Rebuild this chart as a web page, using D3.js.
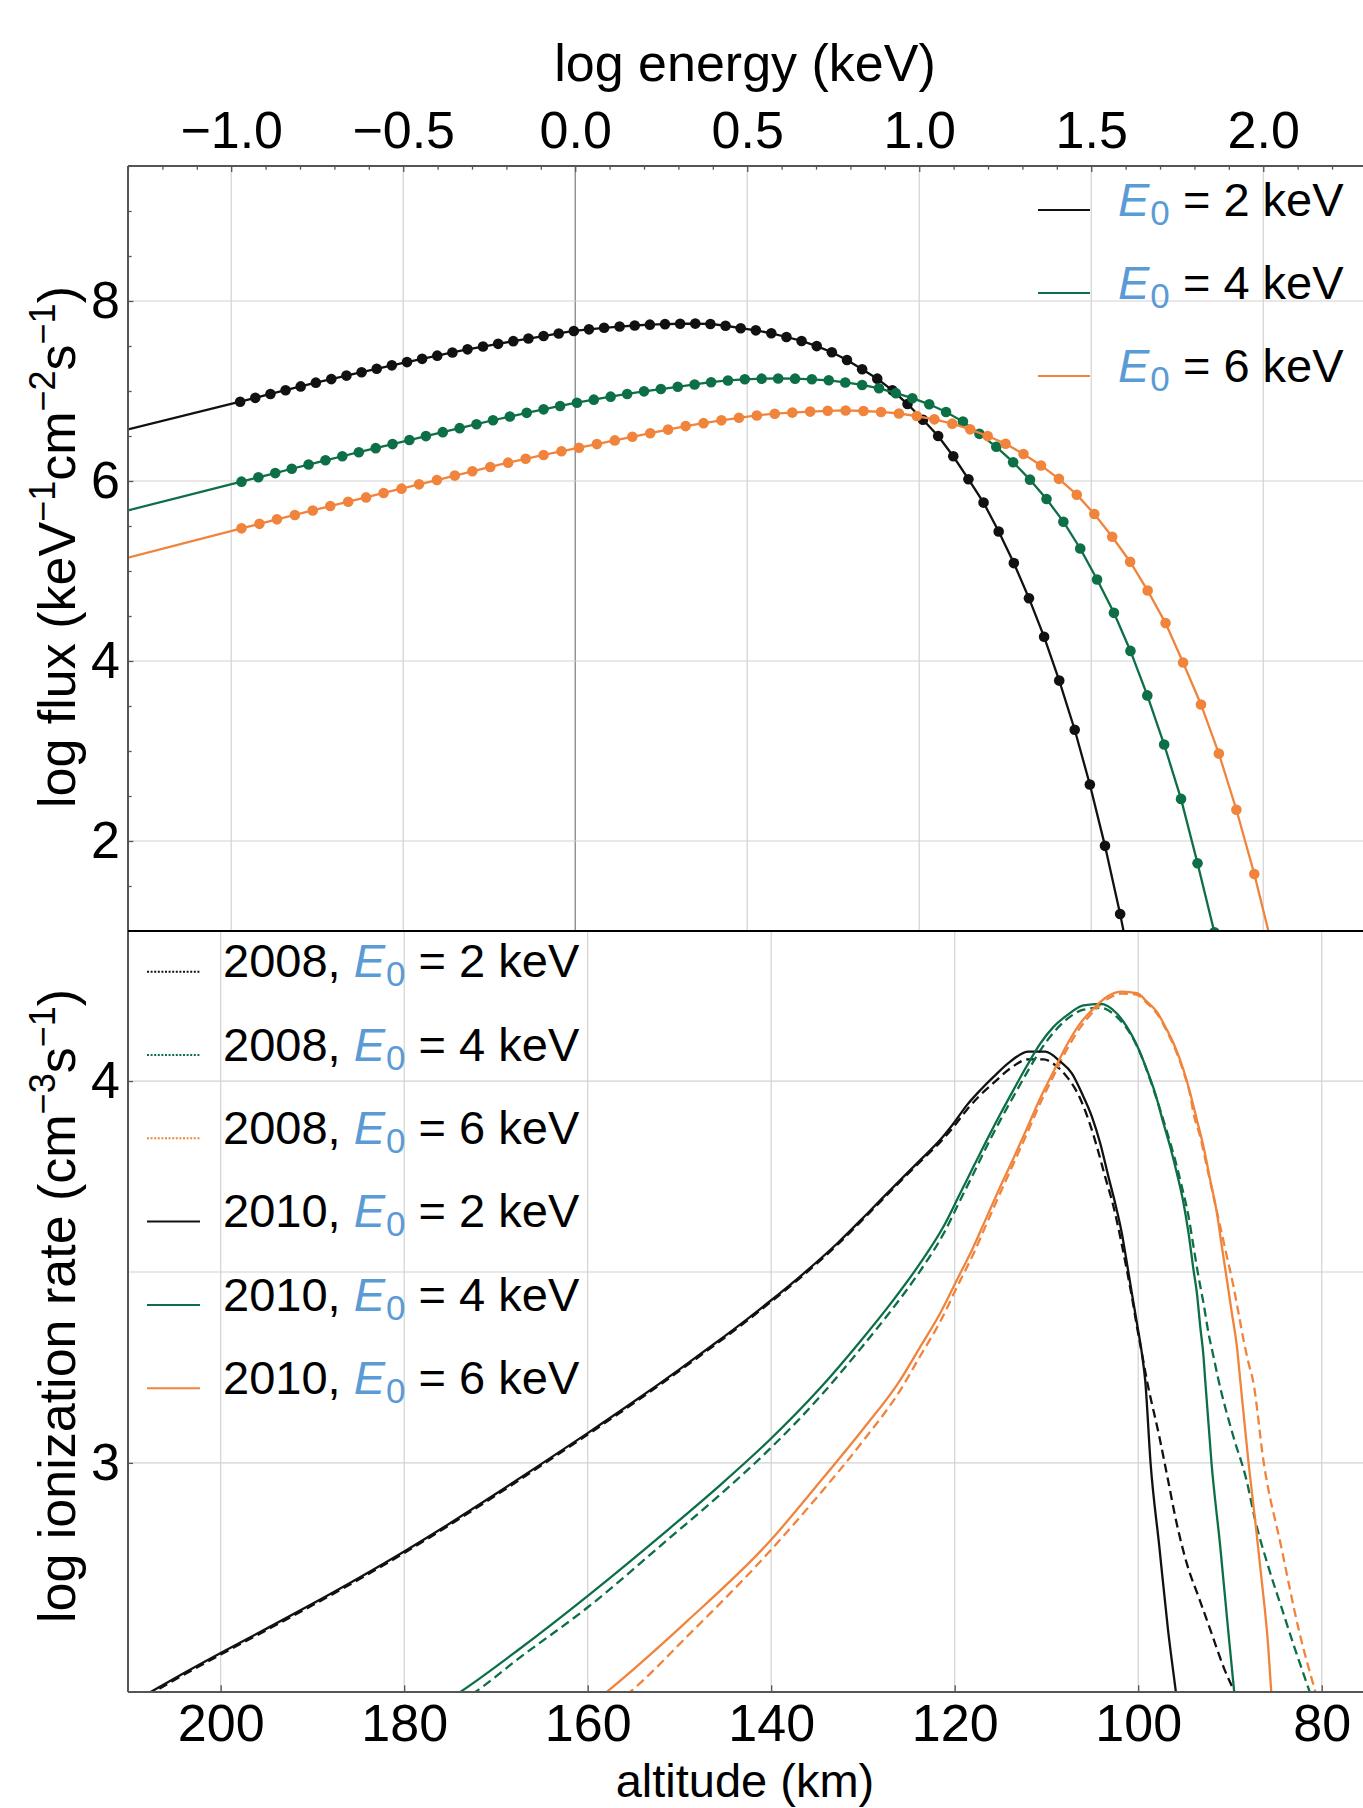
<!DOCTYPE html>
<html>
<head>
<meta charset="utf-8">
<script src="https://cdn.jsdelivr.net/npm/d3@7"></script>
<style>
  body { margin: 0; background: #fff; }
  text { font-family: "Liberation Sans", Arial, sans-serif; }
</style>
</head>
<body>
<div id="chart"></div>
<script>
/* ****************************************************************** */
/* ******************************* data ***************************** */
/* ****************************************************************** */

// top panel: log energy (keV) vs log flux, first entry = line start at left edge (no dot)
var energy2 = [-1.3, -0.974, -0.930, -0.886, -0.842, -0.798, -0.754, -0.709, -0.665, -0.621, -0.577,
  -0.533, -0.489, -0.445, -0.401, -0.357, -0.313, -0.268, -0.224, -0.180, -0.136,
  -0.092, -0.048, -0.004, 0.040, 0.084, 0.129, 0.173, 0.217, 0.261, 0.305,
  0.349, 0.393, 0.437, 0.481, 0.525, 0.570, 0.614, 0.658, 0.702, 0.746,
  0.790, 0.834, 0.878, 0.922, 0.966, 1.011, 1.055, 1.099, 1.143, 1.187,
  1.231, 1.275, 1.319, 1.363, 1.407, 1.452, 1.496, 1.540, 1.584, 1.628];
var flux2 = [6.574, 6.881, 6.924, 6.967, 7.009, 7.051, 7.093, 7.132, 7.171, 7.209, 7.247,
  7.285, 7.321, 7.357, 7.393, 7.428, 7.463, 7.494, 7.524, 7.554, 7.583,
  7.611, 7.639, 7.667, 7.685, 7.702, 7.716, 7.728, 7.737, 7.743, 7.747,
  7.749, 7.745, 7.725, 7.698, 7.674, 7.641, 7.600, 7.556, 7.499, 7.430,
  7.344, 7.241, 7.137, 7.007, 6.855, 6.680, 6.500, 6.275, 6.020, 5.760,
  5.439, 5.088, 4.698, 4.269, 3.782, 3.236, 2.628, 1.946, 1.189, 0.350];

var energy4 = [-1.3, -0.970, -0.921, -0.872, -0.824, -0.775, -0.726, -0.677, -0.629, -0.580, -0.531,
  -0.482, -0.434, -0.385, -0.336, -0.287, -0.239, -0.190, -0.141, -0.092, -0.044,
  0.005, 0.054, 0.103, 0.151, 0.200, 0.249, 0.298, 0.347, 0.395, 0.444,
  0.493, 0.542, 0.590, 0.639, 0.688, 0.737, 0.785, 0.834, 0.883, 0.932,
  0.980, 1.029, 1.078, 1.127, 1.175, 1.224, 1.273, 1.322, 1.370, 1.419,
  1.468, 1.517, 1.566, 1.614, 1.663, 1.712, 1.761, 1.809, 1.858, 1.907];
var flux4 = [5.674, 5.993, 6.041, 6.088, 6.136, 6.183, 6.230, 6.275, 6.320, 6.365, 6.410,
  6.455, 6.499, 6.543, 6.587, 6.631, 6.675, 6.716, 6.757, 6.796, 6.834,
  6.870, 6.904, 6.937, 6.967, 6.996, 7.022, 7.047, 7.073, 7.098, 7.117,
  7.130, 7.137, 7.139, 7.137, 7.130, 7.119, 7.095, 7.067, 7.030, 6.976,
  6.920, 6.852, 6.767, 6.660, 6.524, 6.380, 6.209, 6.015, 5.800, 5.548,
  5.250, 4.905, 4.535, 4.112, 3.618, 3.072, 2.468, 1.752, 0.985, 0.150];

var energy6 = [-1.3, -0.970, -0.918, -0.867, -0.815, -0.763, -0.712, -0.660, -0.608, -0.557, -0.505,
  -0.454, -0.402, -0.350, -0.299, -0.247, -0.195, -0.144, -0.092, -0.040, 0.011,
  0.063, 0.115, 0.166, 0.218, 0.270, 0.321, 0.373, 0.425, 0.476, 0.528,
  0.580, 0.631, 0.683, 0.734, 0.786, 0.838, 0.889, 0.941, 0.993, 1.044,
  1.096, 1.148, 1.199, 1.251, 1.303, 1.354, 1.406, 1.458, 1.509, 1.561,
  1.613, 1.664, 1.716, 1.767, 1.819, 1.871, 1.922, 1.974, 2.026];
var flux6 = [5.148, 5.474, 5.524, 5.574, 5.623, 5.673, 5.722, 5.770, 5.818, 5.867, 5.915,
  5.963, 6.011, 6.060, 6.108, 6.156, 6.204, 6.247, 6.289, 6.330, 6.370,
  6.410, 6.451, 6.491, 6.531, 6.571, 6.610, 6.643, 6.674, 6.702, 6.728,
  6.748, 6.760, 6.771, 6.780, 6.784, 6.778, 6.767, 6.750, 6.722, 6.685,
  6.637, 6.574, 6.500, 6.414, 6.300, 6.173, 6.024, 5.848, 5.633, 5.380,
  5.103, 4.783, 4.421, 3.984, 3.517, 2.971, 2.347, 1.633, 0.830];

// bottom panel: altitude (km) vs log ionization rate
var alt2010e2 = [208, 205, 200, 195, 190, 185, 180, 175, 170, 165, 160, 155, 150, 146.3, 142.65,
  140.11, 136.48, 132.84, 129.57, 126.67, 123.76, 121.58, 120.13, 118.67, 117.22, 115.77,
  113.95, 111.96, 110.14, 108.5, 107.23, 106.14, 105.05, 104.14, 103.24, 102.51, 101.78,
  101.23, 100.69, 100.14, 99.6, 99.24, 98.65, 97.7, 96.75, 95.9, 95.0];
var ion2010e2 = [2.395, 2.436, 2.502, 2.566, 2.631, 2.698, 2.768, 2.842, 2.919, 2.998, 3.078, 3.16, 3.245, 3.310, 3.376,
  3.424, 3.496, 3.574, 3.652, 3.723, 3.793, 3.846, 3.889, 3.937, 3.976, 4.011,
  4.051, 4.077, 4.077, 4.051, 4.02, 3.968, 3.907, 3.837, 3.749, 3.68, 3.601,
  3.523, 3.444, 3.366, 3.287, 3.217, 2.999, 2.781, 2.563, 2.401, 2.23];

var alt2008e2 = [208, 205, 200, 195, 190, 185, 180, 175, 170, 165, 160, 155, 150, 146.3, 142.65,
  140.11, 136.48, 132.84, 129.57, 126.67, 123.76, 121.58, 120.13, 118.67, 117.22, 115.77,
  113.95, 111.96, 110.32, 109.05, 107.77, 106.5, 105.41, 104.5, 103.6, 102.69, 101.96,
  101.31, 100.69, 100.14, 99.6, 99.06, 97.7, 96.75, 95.81, 94.61, 93.43, 92.01, 90.58, 89.54, 88.5];
var ion2008e2 = [2.39, 2.432, 2.498, 2.562, 2.627, 2.694, 2.764, 2.838, 2.915, 2.994, 3.074, 3.156, 3.241, 3.306, 3.372,
  3.420, 3.492, 3.570, 3.648, 3.719, 3.789, 3.84, 3.88, 3.925, 3.963, 3.995,
  4.033, 4.057, 4.057, 4.042, 4.011, 3.963, 3.898, 3.828, 3.749, 3.671, 3.592,
  3.514, 3.435, 3.357, 3.287, 3.217, 3.069, 2.955, 2.842, 2.729, 2.650, 2.554, 2.458, 2.401, 2.33];

var alt2010e4 = [175.5, 174.08, 167.36, 160.09, 151.0, 145.56, 140.18, 134.66, 130.3, 126.67, 123.76,
  121.22, 119.4, 117.95, 116.49, 115.04, 113.59, 112.13, 110.68, 109.23, 107.77, 105.96,
  104.14, 102.33, 101.23, 100.14, 99.05, 98.15, 97.24, 96.51, 95.78, 95.06, 94.51, 93.97,
  93.6, 93.24, 92.88, 92.7, 92.01, 91.06, 90.2, 89.54, 89.0];
var ion2010e4 = [2.375, 2.397, 2.514, 2.65, 2.83, 2.942, 3.06, 3.196, 3.318, 3.427, 3.523,
  3.619, 3.706, 3.776, 3.846, 3.913, 3.977, 4.04, 4.098, 4.142, 4.172, 4.198,
  4.202, 4.177, 4.142, 4.094, 4.029, 3.968, 3.889, 3.828, 3.758, 3.680, 3.601, 3.505,
  3.444, 3.357, 3.278, 3.217, 2.999, 2.781, 2.563, 2.401, 2.27];

var alt2008e4 = [173.9, 172.45, 167.4, 160.09, 151.0, 145.56, 140.18, 134.66, 130.3, 126.67, 123.76,
  121.22, 119.4, 117.95, 116.49, 115.04, 113.59, 112.13, 110.68, 109.23, 107.77, 105.96,
  104.14, 102.33, 100.88, 99.78, 98.69, 97.6, 96.7, 95.97, 95.24, 94.51, 93.97, 93.43,
  92.88, 92.34, 91.79, 91.25, 89.63, 88.2, 87.26, 85.83, 84.42, 83.0, 81.32, 80.0];
var ion2008e4 = [2.375, 2.397, 2.49, 2.62, 2.805, 2.917, 3.036, 3.174, 3.298, 3.407, 3.503,
  3.6, 3.688, 3.758, 3.83, 3.897, 3.96, 4.022, 4.08, 4.127, 4.162, 4.187,
  4.192, 4.168, 4.125, 4.073, 4.003, 3.924, 3.854, 3.793, 3.723, 3.645, 3.566, 3.488,
  3.418, 3.340, 3.278, 3.217, 3.069, 2.955, 2.851, 2.729, 2.624, 2.519, 2.401, 2.31];

var alt2010e6 = [159.5, 158.09, 149.19, 140.18, 134.66, 130.0, 125.94, 123.76, 121.58, 119.76, 117.95,
  116.49, 115.04, 113.59, 112.13, 110.68, 109.23, 107.77, 106.32, 104.87, 103.41, 101.78,
  100.14, 99.05, 97.96, 96.87, 96.15, 95.06, 94.33, 93.6, 92.88, 92.15, 91.42, 90.88,
  90.33, 89.79, 89.24, 88.88, 87.97, 87.26, 86.55, 85.83, 85.5, 85.1];
var ion2010e6 = [2.37, 2.397, 2.585, 2.794, 2.951, 3.088, 3.217, 3.304, 3.392, 3.479, 3.566,
  3.645, 3.723, 3.798, 3.876, 3.955, 4.025, 4.095, 4.151, 4.19, 4.221, 4.234,
  4.23, 4.208, 4.181, 4.134, 4.099, 4.029, 3.968, 3.898, 3.828, 3.741, 3.654, 3.566,
  3.479, 3.392, 3.304, 3.217, 2.999, 2.851, 2.694, 2.519, 2.401, 2.3];

var alt2008e6 = [157.0, 155.55, 149.19, 140.18, 134.66, 130.0, 125.94, 123.76, 121.58, 119.76, 117.95,
  116.49, 115.04, 113.59, 112.13, 110.68, 109.23, 107.77, 106.32, 104.87, 103.41, 101.78,
  100.14, 99.05, 97.96, 96.87, 96.15, 95.06, 94.33, 93.97, 93.24, 92.52, 91.79, 91.06,
  90.33, 89.61, 89.06, 88.52, 87.97, 87.5, 86.31, 84.42, 82.5, 80.7, 79.5];
var ion2008e6 = [2.37, 2.397, 2.545, 2.768, 2.92, 3.057, 3.19, 3.28, 3.37, 3.46, 3.548,
  3.628, 3.707, 3.784, 3.862, 3.942, 4.013, 4.083, 4.14, 4.182, 4.214, 4.229,
  4.226, 4.204, 4.177, 4.13, 4.094, 4.024, 3.963, 3.915, 3.854, 3.776, 3.697, 3.619,
  3.540, 3.462, 3.392, 3.322, 3.261, 3.217, 2.999, 2.781, 2.563, 2.401, 2.3];

// ticks
var energyTicks = [-1.0, -0.5, 0.0, 0.5, 1.0, 1.5, 2.0];
var fluxTicks = [2, 4, 6, 8];
var altTicks = [200, 180, 160, 140, 120, 100, 80];
var ionTicks = [3, 4];
var ionGrid = [3, 3.5, 4];
var beamEnergies = [2, 4, 6];
var years = ["2008", "2010"];

/* ****************************************************************** */
/* ****************************** layout **************************** */
/* ****************************************************************** */
var W = 1363, H = 1808;
var left = 128, right = 1363;
var topTop = 166, mid = 931, botBottom = 1692;

var black = "#111111", green = "#0c6f46", orange = "#f0843c", blue = "#5b9bd5";
var colors = [black, green, orange];
var gridColor = "#d2d2d2", frameColor = "#555555";

var svg = d3.select("#chart")
    .append("svg")
    .attr("width", W)
    .attr("height", H);

// scales
var xE = d3.scaleLinear().domain([-1.3, 2.29]).range([left, right]);
var yF = d3.scaleLinear().domain([1, 9.5]).range([mid, topTop]);
var xA = d3.scaleLinear().domain([210.1, 75.5]).range([left, right]);
var yI = d3.scaleLinear().domain([2.4, 4.393]).range([botBottom, mid]);

// clip regions
var defs = svg.append("defs");
defs.append("clipPath").attr("id", "clipTop")
    .append("rect").attr("x", left).attr("y", topTop).attr("width", right - left).attr("height", mid - topTop);
defs.append("clipPath").attr("id", "clipBot")
    .append("rect").attr("x", left).attr("y", mid).attr("width", right - left).attr("height", botBottom - mid);

/* ---------------------------- gridlines --------------------------- */
var grid = svg.append("g");
grid.selectAll(".gvE")
    .data(energyTicks)
    .enter()
    .append("line")
    .attr("x1", d => xE(d)).attr("x2", d => xE(d))
    .attr("y1", topTop).attr("y2", mid)
    .attr("stroke", d => d === 0 ? "#7a7a7a" : gridColor)
    .attr("stroke-width", 1.2);
grid.selectAll(".ghF")
    .data(fluxTicks)
    .enter()
    .append("line")
    .attr("x1", left).attr("x2", right)
    .attr("y1", d => yF(d)).attr("y2", d => yF(d))
    .attr("stroke", gridColor)
    .attr("stroke-width", 1.2);
grid.selectAll(".gvA")
    .data(altTicks)
    .enter()
    .append("line")
    .attr("x1", d => xA(d)).attr("x2", d => xA(d))
    .attr("y1", mid).attr("y2", botBottom)
    .attr("stroke", gridColor)
    .attr("stroke-width", 1.2);
grid.selectAll(".ghI")
    .data(ionGrid)
    .enter()
    .append("line")
    .attr("x1", left).attr("x2", right)
    .attr("y1", d => yI(d)).attr("y2", d => yI(d))
    .attr("stroke", gridColor)
    .attr("stroke-width", 1.2);

/* ---------------------------- top panel --------------------------- */
var topSeries = [
  { e: energy2, f: flux2, color: black },
  { e: energy4, f: flux4, color: green },
  { e: energy6, f: flux6, color: orange }
];

var lineTop = d3.line()
    .x(d => xE(d[0]))
    .y(d => yF(d[1]));

var topG = svg.append("g").attr("clip-path", "url(#clipTop)");
topSeries.forEach(function(s) {
  var pts = d3.zip(s.e, s.f);
  topG.append("path")
      .datum(pts)
      .attr("d", lineTop)
      .attr("fill", "none")
      .attr("stroke", s.color)
      .attr("stroke-width", 2.3);
  // dots on the sampled energies (skip the left edge start)
  topG.append("g")
      .selectAll("circle")
      .data(pts.slice(1))
      .enter()
      .append("circle")
      .attr("cx", d => xE(d[0]))
      .attr("cy", d => yF(d[1]))
      .attr("r", 5.3)
      .attr("fill", s.color);
});

/* --------------------------- bottom panel ------------------------- */
var botSeries = [
  { a: alt2008e2, v: ion2008e2, color: black, dashed: true },
  { a: alt2008e4, v: ion2008e4, color: green, dashed: true },
  { a: alt2008e6, v: ion2008e6, color: orange, dashed: true },
  { a: alt2010e2, v: ion2010e2, color: black, dashed: false },
  { a: alt2010e4, v: ion2010e4, color: green, dashed: false },
  { a: alt2010e6, v: ion2010e6, color: orange, dashed: false }
];

var lineBot = d3.line()
    .curve(d3.curveMonotoneX)
    .x(d => xA(d[0]))
    .y(d => yI(d[1]));

var botG = svg.append("g").attr("clip-path", "url(#clipBot)");
botSeries.forEach(function(s) {
  botG.append("path")
      .datum(d3.zip(s.a, s.v))
      .attr("d", lineBot)
      .attr("fill", "none")
      .attr("stroke", s.color)
      .attr("stroke-width", 2.3)
      .attr("stroke-dasharray", s.dashed ? "9,5" : null);
});

/* ------------------------------ axes ------------------------------ */
function styleAxis(g, size) {
  g.attr("font-size", size);
  g.select(".domain").remove();
  g.selectAll(".tick line").attr("stroke", frameColor).attr("stroke-width", 1.3);
  g.selectAll(".tick text").attr("fill", "#000");
}

// top energy axis (major + minor)
var axTop = svg.append("g")
    .attr("transform", `translate(0,${topTop})`)
    .call(d3.axisTop(xE).tickValues(energyTicks).tickFormat(d3.format(".1f")).tickSize(-6).tickPadding(18));
styleAxis(axTop, 52);
var minorE = d3.range(-13, 23).map(i => i / 10).filter(v => Math.abs(v * 2 - Math.round(v * 2)) > 1e-6);
var axTopMinor = svg.append("g")
    .attr("transform", `translate(0,${topTop})`)
    .call(d3.axisTop(xE).tickValues(minorE).tickFormat("").tickSize(-3.7));
styleAxis(axTopMinor, 10);

// top flux axis
var axFlux = svg.append("g")
    .attr("transform", `translate(${left},0)`)
    .call(d3.axisLeft(yF).tickValues(fluxTicks).tickFormat(d3.format("d")).tickSize(-5.4).tickPadding(8));
styleAxis(axFlux, 52);
var minorF = d3.range(3, 19).map(i => i / 2).filter(v => fluxTicks.indexOf(v) < 0);
var axFluxMinor = svg.append("g")
    .attr("transform", `translate(${left},0)`)
    .call(d3.axisLeft(yF).tickValues(minorF).tickFormat("").tickSize(-3.6));
styleAxis(axFluxMinor, 10);

// bottom altitude axis
var axAlt = svg.append("g")
    .attr("transform", `translate(0,${botBottom})`)
    .call(d3.axisBottom(xA).tickValues(altTicks).tickFormat(d3.format("d")).tickSize(-6.7).tickPadding(12));
styleAxis(axAlt, 52);

// bottom ionization axis
var axIon = svg.append("g")
    .attr("transform", `translate(${left},0)`)
    .call(d3.axisLeft(yI).tickValues(ionTicks).tickFormat(d3.format("d")).tickSize(-5).tickPadding(8));
styleAxis(axIon, 52);

// frame
svg.append("line").attr("x1", left).attr("x2", right).attr("y1", topTop).attr("y2", topTop)
    .attr("stroke", frameColor).attr("stroke-width", 2);
svg.append("line").attr("x1", left).attr("x2", left).attr("y1", topTop).attr("y2", botBottom)
    .attr("stroke", frameColor).attr("stroke-width", 2);
svg.append("line").attr("x1", left).attr("x2", right).attr("y1", mid).attr("y2", mid)
    .attr("stroke", "#000").attr("stroke-width", 2);
svg.append("line").attr("x1", left).attr("x2", right).attr("y1", botBottom).attr("y2", botBottom)
    .attr("stroke", frameColor).attr("stroke-width", 2);

/* ------------------------------ titles ---------------------------- */
svg.append("text")
    .attr("x", 745).attr("y", 81)
    .attr("text-anchor", "middle")
    .attr("font-size", 52)
    .text("log energy (keV)");

svg.append("text")
    .attr("x", 745).attr("y", 1797)
    .attr("text-anchor", "middle")
    .attr("font-size", 47)
    .text("altitude (km)");

// rotated titles with superscripts
function supTitle(cx, cy, parts) {
  var t = svg.append("text")
      .attr("transform", `translate(${cx},${cy}) rotate(-90)`)
      .attr("text-anchor", "middle")
      .attr("font-size", 52);
  parts.forEach(function(p) {
    if (p.sup) {
      t.append("tspan").attr("font-size", 36).attr("dy", -20).text(p.t);
    } else {
      t.append("tspan").attr("dy", p.after ? 20 : 0).text(p.t);
    }
  });
}
supTitle(75, 547, [
  { t: "log flux (keV" }, { t: "\u22121", sup: true }, { t: "cm", after: true },
  { t: "\u22122", sup: true }, { t: "s", after: true }, { t: "\u22121", sup: true }, { t: ")", after: true }
]);
supTitle(75, 1306, [
  { t: "log ionization rate (cm" }, { t: "\u22123", sup: true }, { t: "s", after: true },
  { t: "\u22121", sup: true }, { t: ")", after: true }
]);

/* ------------------------------ legends --------------------------- */
function legendLabel(txt, prefix, e0) {
  if (prefix) txt.append("tspan").text(prefix);
  txt.append("tspan").attr("fill", blue).attr("font-style", "italic").text("E");
  txt.append("tspan").attr("fill", blue).attr("font-size", 35).attr("dy", 9).attr("dx", 1).text("0");
  txt.append("tspan").attr("dy", -9).text(" = " + e0 + " keV");
}

// top legend
beamEnergies.forEach(function(e0, i) {
  var y = 210 + i * 83;
  svg.append("line")
      .attr("x1", 1038).attr("x2", 1090).attr("y1", y).attr("y2", y)
      .attr("stroke", colors[i]).attr("stroke-width", 2);
  var t = svg.append("text").attr("x", 1118).attr("y", y + 6).attr("font-size", 47);
  legendLabel(t, null, e0);
});

// bottom legend
var rows = [];
years.forEach(function(yr) {
  beamEnergies.forEach(function(e0, i) {
    rows.push({ year: yr, e0: e0, color: colors[i], dashed: yr === "2008" });
  });
});
rows.forEach(function(r, i) {
  var y = 971.7 + i * 83.3;
  svg.append("line")
      .attr("x1", 147).attr("x2", 200).attr("y1", y).attr("y2", y)
      .attr("stroke", r.color).attr("stroke-width", 2)
      .attr("stroke-dasharray", r.dashed ? "2,1.6" : null);
  var t = svg.append("text").attr("x", 223).attr("y", y + 5.6).attr("font-size", 47);
  legendLabel(t, r.year + ", ", r.e0);
});
</script>
</body>
</html>
